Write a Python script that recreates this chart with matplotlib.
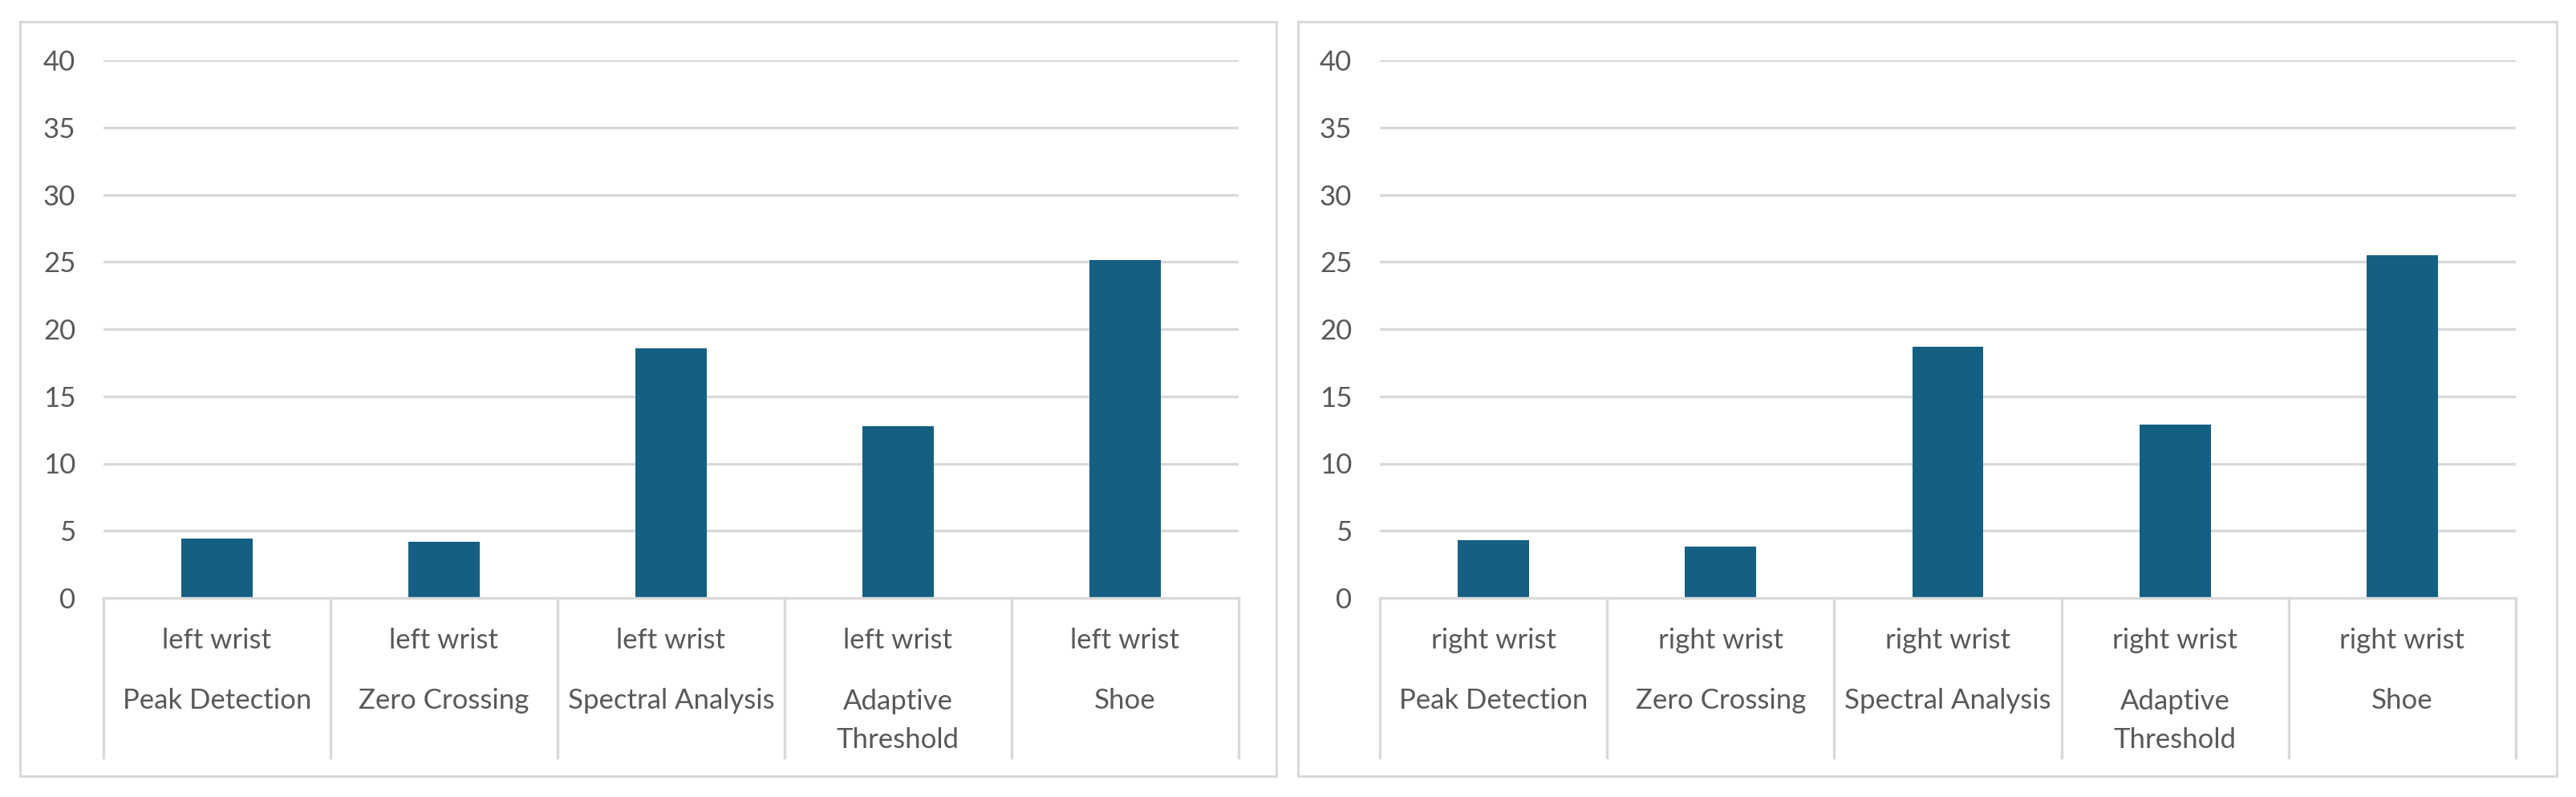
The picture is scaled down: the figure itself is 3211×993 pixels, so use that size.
import matplotlib
matplotlib.use("Agg")
import matplotlib.pyplot as plt
from matplotlib.patches import Rectangle

methods = ["Peak Detection", "Zero Crossing", "Spectral Analysis", "Adaptive\nThreshold", "Shoe"]
left_vals = [4.42, 4.19, 18.55, 12.80, 25.12]
right_vals = [4.31, 3.81, 18.66, 12.92, 25.50]
yticks = [0, 5, 10, 15, 20, 25, 30, 35, 40]

plt.rcParams['font.family'] = ['Lato', 'DejaVu Sans']

W, H = 3212, 993
fig = plt.figure(figsize=(W / 100, H / 100), dpi=100)
fig.patch.set_facecolor("white")

bar_col = "#156082"
grid_col = "#d9d9d9"
txt_col = "#595959"
fs = 25


def panel(x0, x1, bx0, bx1, vals, side):
    # outer chart border
    fig.patches.append(Rectangle((bx0 / W, 1 - 967 / H), (bx1 - bx0) / W, (967 - 27) / H,
                                 transform=fig.transFigure, fill=False,
                                 edgecolor=grid_col, lw=2.2))
    top, bot = 75, 745
    ax = fig.add_axes([x0 / W, 1 - bot / H, (x1 - x0) / W, (bot - top) / H])
    ax.set_xlim(-0.5, 4.5)
    ax.set_ylim(0, 40)
    for s in ax.spines.values():
        s.set_visible(False)
    for t in yticks[1:]:
        ax.axhline(t, color=grid_col, lw=2.4, zorder=0)
    ax.axhline(0, color=grid_col, lw=2.4, zorder=3, clip_on=False)
    ax.bar(range(len(vals)), vals, width=0.313, color=bar_col, zorder=2)
    ax.set_yticks(yticks)
    ax.set_yticklabels([str(t) for t in yticks])
    ax.tick_params(axis='y', length=0, pad=25, labelsize=fs, labelcolor=txt_col)
    ax.set_xticks([])
    sep_bot = -(944 - bot) / (bot - top)
    for i in range(len(vals) + 1):
        ax.plot([i - 0.5, i - 0.5], [0, sep_bot], color=grid_col, lw=2.4,
                transform=ax.get_xaxis_transform(), clip_on=False)
    for i, m in enumerate(methods):
        ax.text(i, -(808 - bot) / (bot - top), side + " wrist", ha='center', va='baseline',
                fontsize=fs, color=txt_col, transform=ax.get_xaxis_transform())
        # baseline alignment goes by the last line
        last = 883 + 49 * m.count("\n")
        ax.text(i, -(last - bot) / (bot - top), m, ha='center', va='baseline',
                multialignment='center', linespacing=1.6,
                fontsize=fs, color=txt_col, transform=ax.get_xaxis_transform())


panel(129, 1544, 25, 1591, left_vals, "left")
panel(1720, 3136, 1618, 3187, right_vals, "right")

fig.savefig("out.png", dpi=100)
